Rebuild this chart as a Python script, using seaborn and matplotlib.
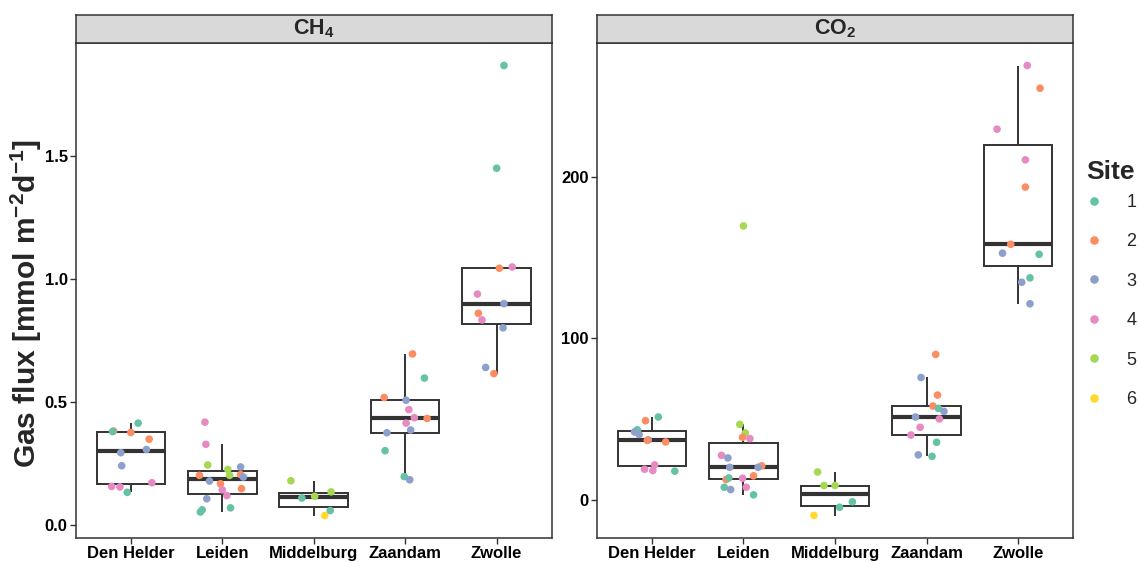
import numpy as np
import pandas as pd
import matplotlib
matplotlib.use("Agg")
import matplotlib.pyplot as plt
from matplotlib.lines import Line2D
from matplotlib.ticker import FormatStrFormatter
import seaborn as sns

# ---------------- data ----------------
cities = ["Den Helder", "Leiden", "Middelburg", "Zaandam", "Zwolle"]
sites = [1, 2, 3, 4, 5, 6]
site_colors = ["#66C2A5", "#FC8D62", "#8DA0CB", "#E78AC3", "#A6D854", "#FFD92F"]

ch4_counts = [12, 18, 6, 13, 11]
ch4_flux = [
    0.382, 0.380, 0.414, 0.376, 0.349, 0.294, 0.307, 0.241, 0.157, 0.155, 0.172, 0.133,
    0.418, 0.328, 0.244, 0.226, 0.202, 0.236, 0.205, 0.195, 0.202, 0.179, 0.168, 0.148,
    0.143, 0.120, 0.107, 0.070, 0.053, 0.062,
    0.180, 0.110, 0.117, 0.135, 0.059, 0.039,
    0.695, 0.597, 0.518, 0.507, 0.469, 0.436, 0.433, 0.414, 0.386, 0.375, 0.302, 0.197, 0.184,
    1.866, 1.449, 1.043, 1.048, 0.938, 0.899, 0.860, 0.833, 0.801, 0.640, 0.615]
ch4_site = [2, 1, 1, 2, 2, 3, 3, 3, 4, 4, 4, 1,
            4, 4, 5, 5, 5, 3, 2, 3, 2, 3, 2, 2, 4, 4, 3, 1, 1, 1,
            5, 1, 5, 5, 1, 6,
            2, 1, 2, 3, 4, 4, 2, 4, 3, 3, 1, 1, 3,
            1, 1, 2, 4, 4, 3, 2, 4, 3, 3, 2]
ch4_jitter = [-0.19, -0.20, 0.08, 0.00, 0.20, -0.11, 0.17, -0.10, -0.21, -0.12, 0.23, -0.04,
              -0.19, -0.18, -0.16, 0.06, 0.08, 0.20, 0.20, 0.23, -0.25, -0.14, -0.02, 0.21,
              0.00, 0.05, -0.17, 0.09, -0.24, -0.22,
              -0.25, -0.13, 0.01, 0.19, 0.18, 0.12,
              0.08, 0.21, -0.23, 0.01, 0.04, 0.10, 0.24, 0.01, 0.06, -0.20, -0.22, -0.01, 0.05,
              0.08, 0.00, 0.03, 0.17, -0.21, 0.08, -0.20, -0.16, 0.07, -0.12, -0.03]

co2_counts = [12, 18, 6, 13, 11]
co2_flux = [
    51.2, 48.9, 43.3, 41.9, 40.4, 37.0, 36.7, 35.7, 21.5, 18.8, 18.0, 17.6,
    169.7, 46.6, 41.3, 38.6, 37.8, 27.4, 25.8, 20.0, 20.9, 20.0, 12.4, 13.4, 13.2, 14.7,
    7.6, 6.2, 7.6, 2.9,
    17.1, 8.7, 8.7, -1.4, -4.8, -9.9,
    90.0, 75.7, 64.8, 58.0, 56.5, 54.7, 51.2, 50.0, 44.8, 40.0, 35.5, 27.7, 26.8,
    269.2, 255.1, 229.7, 210.7, 193.8, 158.3, 152.8, 152.1, 137.5, 134.8, 121.4]
co2_site = [1, 2, 1, 3, 3, 3, 2, 2, 4, 4, 4, 1,
            5, 5, 5, 2, 4, 4, 3, 3, 2, 3, 2, 1, 4, 2, 1, 3, 4, 1,
            5, 5, 5, 1, 1, 6,
            2, 3, 2, 2, 1, 3, 3, 4, 4, 4, 1, 3, 1,
            4, 2, 4, 4, 2, 2, 3, 1, 1, 3, 3]
co2_jitter = [0.07, -0.07, -0.16, -0.19, -0.14, -0.04, -0.05, 0.15, 0.03, -0.08, 0.01, 0.25,
              0.00, -0.04, 0.02, -0.01, 0.07, -0.24, -0.17, -0.15, 0.20, 0.16, -0.19, -0.16,
              -0.01, 0.11, -0.21, -0.14, 0.03, 0.11,
              -0.19, -0.12, 0.00, 0.19, 0.05, -0.23,
              0.10, -0.06, 0.12, 0.07, 0.13, 0.19, -0.12, 0.14, -0.07, -0.17, 0.11, -0.09, 0.06,
              0.10, 0.24, -0.23, 0.08, 0.08, -0.08, -0.17, 0.23, 0.13, 0.04, 0.13]

panel_titles = ["CH$_4$", "CO$_2$"]
ylabel = "Gas flux [mmol m$^{-2}$d$^{-1}$]"
legend_title = "Site"


def make_df(counts, flux, site, jitter):
    city = [c for c, n in zip(cities, counts) for _ in range(n)]
    df = pd.DataFrame({"city": city, "flux": flux, "site": site, "jit": jitter})
    df["pos"] = df["city"].map({c: i for i, c in enumerate(cities)})
    df["xpos"] = df["pos"] + df["jit"]
    return df


dfs = [make_df(ch4_counts, ch4_flux, ch4_site, ch4_jitter),
       make_df(co2_counts, co2_flux, co2_site, co2_jitter)]

# ---------------- style ----------------
sns.set_style("white")
plt.rcParams["font.family"] = ["Liberation Sans", "DejaVu Sans"]
plt.rcParams["mathtext.fontset"] = "custom"
plt.rcParams["mathtext.rm"] = "Liberation Sans:bold"
plt.rcParams["mathtext.bf"] = "Liberation Sans:bold"
plt.rcParams["mathtext.it"] = "Liberation Sans:bold"
plt.rcParams["mathtext.default"] = "bf"

W, H = 1138, 562
fig = plt.figure(figsize=(W / 100, H / 100), dpi=100)

panels = [(76, 551.5), (597, 1073)]
top, bottom, strip_top = 43, 538, 15
edge = "#333333"
palette = dict(zip(sites, site_colors))

for i, (df, (x0, x1)) in enumerate(zip(dfs, panels)):
    ax = fig.add_axes([x0 / W, (H - bottom) / H, (x1 - x0) / W, (bottom - top) / H])
    sns.boxplot(data=df, x="pos", y="flux", native_scale=True, width=0.75,
                color="white", saturation=1, linecolor=edge, linewidth=1.4,
                showfliers=False, showcaps=False,
                medianprops=dict(linewidth=3.0, color=edge), ax=ax)
    sns.scatterplot(data=df, x="xpos", y="flux", hue="site", palette=palette,
                    s=30, linewidth=0, legend=False, zorder=3, ax=ax)
    lo, hi = df["flux"].min(), df["flux"].max()
    pad = 0.05 * (hi - lo)
    ax.set_ylim(lo - pad, hi + pad)
    ax.set_xlim(-0.6, 4.6)
    ax.set_xticks(range(len(cities)))
    ax.set_xticklabels(cities)
    if i == 0:
        ax.set_yticks([0, 0.5, 1.0, 1.5])
        ax.yaxis.set_major_formatter(FormatStrFormatter("%.1f"))
    else:
        ax.set_yticks([0, 100, 200])
        ax.yaxis.set_major_formatter(FormatStrFormatter("%d"))
    ax.set_xlabel("")
    ax.set_ylabel("")
    ax.tick_params(axis="both", length=4, width=1, color=edge, labelsize=12,
                   labelcolor="black", pad=2, left=True, bottom=True)
    for lab in ax.get_xticklabels() + ax.get_yticklabels():
        lab.set_fontweight("bold")
    for sp in ax.spines.values():
        sp.set_visible(True)
        sp.set_color(edge)
        sp.set_linewidth(1.1)
    ax.grid(False)
    ax.set_facecolor("white")

    sax = fig.add_axes([x0 / W, (H - top) / H, (x1 - x0) / W, (top - strip_top) / H])
    sax.set_facecolor("#D9D9D9")
    sax.set_xticks([])
    sax.set_yticks([])
    for sp in sax.spines.values():
        sp.set_color(edge)
        sp.set_linewidth(1.1)
    sax.text(0.5, 0.5, panel_titles[i], ha="center", va="center",
             fontsize=15.5, fontweight="bold", transform=sax.transAxes)

fig.text(26 / W, (H - 303) / H, ylabel, rotation=90, ha="center", va="center",
         fontsize=21.5, fontweight="bold")

fig.text(1086 / W, (H - 172) / H, legend_title, ha="left", va="center",
         fontsize=19, fontweight="bold")

handles = [Line2D([], [], marker="o", linestyle="", markersize=6.2,
                  markerfacecolor=c, markeredgewidth=0) for c in site_colors]
leg = fig.legend(handles, [str(s) for s in sites],
                 loc="upper left", bbox_to_anchor=(1089.5 / W, (H - 194) / H),
                 frameon=False, fontsize=13, borderpad=0,
                 labelspacing=1.24, handletextpad=1.55, handlelength=0.5,
                 borderaxespad=0)

fig.savefig("out.png", dpi=100)
